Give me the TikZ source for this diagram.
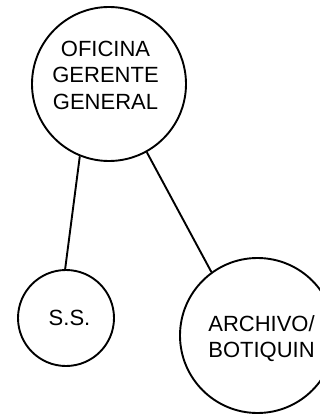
\documentclass[tikz,border=0pt]{standalone}
\usepackage{fontspec}
\setmainfont{Liberation Sans}
\begin{document}
\begin{tikzpicture}[x=1pt,y=-1pt,
  unit/.style={circle,draw=black,line width=1.9pt,inner sep=0pt,fill=white},
  lbl/.style={anchor=base,inner sep=0pt,font=\fontsize{22}{26.5}\selectfont},
  link/.style={line width=1.9pt,draw=black}]
\useasboundingbox (0,0) rectangle (320,414);
\clip (0,0) rectangle (320,414);
\node[unit,minimum size=154pt] (top) at (109,84) {};
\node[unit,minimum size=96pt] (ss) at (66,318) {};
\node[unit,minimum size=155pt] (arch) at (257.5,335.5) {};
\draw[link] (top.248) -- (ss.91);
\draw[link] (top.299) -- (arch.126);
\node[lbl] (t1) at (105.5,57) {OFICINA};
\node[lbl] (t2) at (105.5,83) {GERENTE};
\node[lbl] (t3) at (105.5,110) {GENERAL};
\node[lbl] (s1) at (69.5,325) {S.S.};
\node[lbl] (a1) at (261.5,331) {ARCHIVO/};
\node[lbl] (a2) at (261.5,357) {BOTIQUIN};
\end{tikzpicture}
\end{document}
